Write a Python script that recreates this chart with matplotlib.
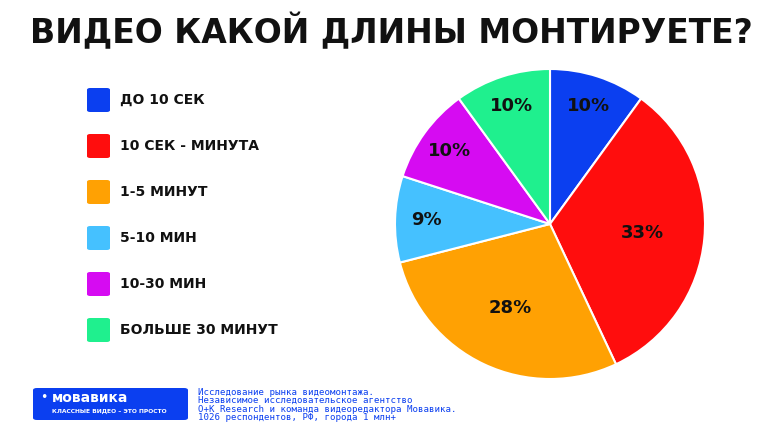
import numpy as np
import matplotlib.pyplot as plt
from matplotlib.patches import FancyBboxPatch

labels = ["ДО 10 СЕК", "10 СЕК - МИНУТА", "1-5 МИНУТ", "5-10 МИН", "10-30 МИН", "БОЛЬШЕ 30 МИНУТ"]
values = [10, 33, 28, 9, 10, 10]
colors = ["#0b3ff0", "#ff0d0d", "#ffa103", "#45c1ff", "#d60bf2", "#1ff08e"]

fig = plt.figure(figsize=(7.84, 4.33), dpi=100)
W, H = 784, 433

fig.text(30 / W, 1 - 32 / H, "ВИДЕО КАКОЙ ДЛИНЫ МОНТИРУЕТЕ?", fontsize=23.8,
         fontweight="heavy", va="center", ha="left", color="#111111")

# pie
r = 155
ax = fig.add_axes([(550 - r) / W, 1 - (224 + r) / H, 2 * r / W, 2 * r / H])
wedges, _ = ax.pie(values, colors=colors, startangle=90, counterclock=False,
                   wedgeprops=dict(edgecolor="white", linewidth=1.5))
for w, v in zip(wedges, values):
    ang = np.deg2rad((w.theta1 + w.theta2) / 2)
    d = 0.8 if v < 20 else 0.6
    ax.text(d * np.cos(ang), d * np.sin(ang), f"{v}%", ha="center", va="center",
            fontsize=13, fontweight="bold", color="#111111")
ax.set_xlim(-1, 1)
ax.set_ylim(-1, 1)
ax.set_aspect("auto")

# legend
for i, (lab, c) in enumerate(zip(labels, colors)):
    y = 100 + 46 * i
    fig.patches.append(FancyBboxPatch((87 / W, 1 - (y + 12) / H), 23 / W, 24 / H,
                                      boxstyle="round,pad=0,rounding_size=0.004",
                                      transform=fig.transFigure, facecolor=c, edgecolor="none"))
    fig.text(120 / W, 1 - y / H, lab, fontsize=10, fontweight="bold", va="center", color="#111111")

# footer
fig.patches.append(FancyBboxPatch((33 / W, 1 - 420 / H), 155 / W, 32 / H,
                                  boxstyle="round,pad=0,rounding_size=0.005",
                                  transform=fig.transFigure, facecolor="#0b3ff0", edgecolor="none"))
fig.text(52 / W, 1 - 398 / H, "мовавика", fontsize=10, fontweight="bold", color="white", va="center")
fig.text(40 / W, 1 - 397 / H, "•", fontsize=9, color="white", va="center")
fig.text(52 / W, 1 - 411 / H, "КЛАССНЫЕ ВИДЕО – ЭТО ПРОСТО", fontsize=4.3, fontweight="bold",
         color="white", va="center")
fig.text(198 / W, 1 - 405 / H,
         "Исследование рынка видеомонтажа.\nНезависимое исследовательское агентство\n"
         "O+K Research и команда видеоредактора Мовавика.\n1026 респондентов, РФ, города 1 млн+",
         fontsize=6.6, family="DejaVu Sans Mono", color="#0b3ff0", va="center", linespacing=0.95)

fig.savefig("out.png", dpi=100, facecolor="white")
